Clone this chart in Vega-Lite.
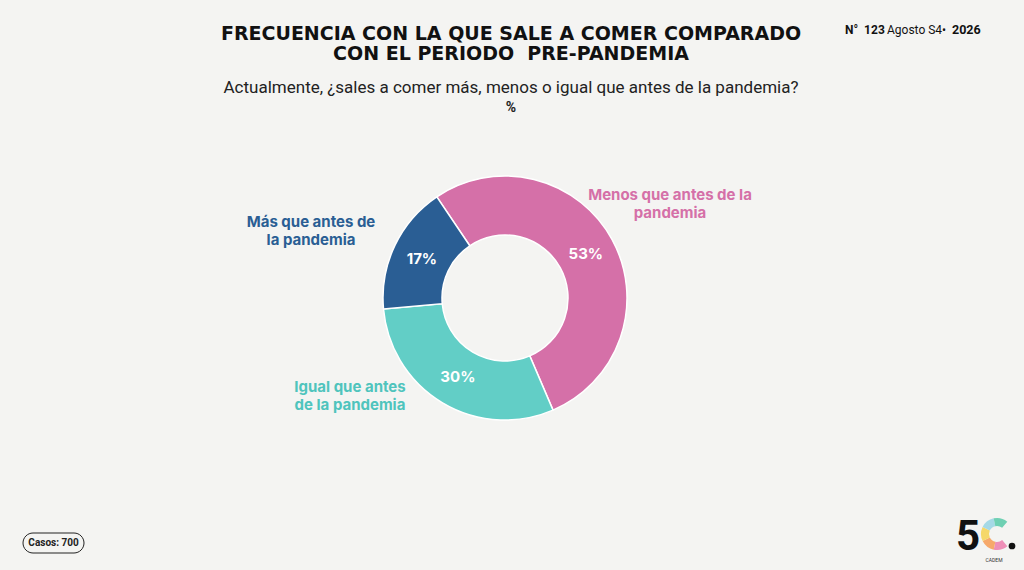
{
  "$schema": "https://vega.github.io/schema/vega-lite/v6.json",
  "width": 1024,
  "height": 570,
  "autosize": "none",
  "padding": 0,
  "background": "#f4f4f2",
  "config": {"view": {"stroke": null}},
  "datasets": {
    "respuestas": [
      {"respuesta": "Menos que antes de la pandemia", "etiqueta": "Menos que antes de la|pandemia", "pct": 0.53, "orden": 1},
      {"respuesta": "Igual que antes de la pandemia", "etiqueta": "Igual que antes|de la pandemia", "pct": 0.30, "orden": 2},
      {"respuesta": "Más que antes de la pandemia", "etiqueta": "Más que antes de|la pandemia", "pct": 0.17, "orden": 3}
    ],
    "logo": [
      {"tramo": "rosa", "peso": 1, "orden": 1},
      {"tramo": "naranja", "peso": 1, "orden": 2},
      {"tramo": "amarillo", "peso": 1, "orden": 3},
      {"tramo": "celeste", "peso": 1, "orden": 4},
      {"tramo": "verde", "peso": 1, "orden": 5}
    ]
  },
  "layer": [
    {
      "data": {"name": "respuestas"},
      "encoding": {
        "theta": {"field": "pct", "type": "quantitative", "stack": true, "scale": {"range": [-0.593, 5.690]}},
        "order": {"field": "orden", "type": "quantitative"},
        "x": {"value": 505},
        "y": {"value": 298}
      },
      "layer": [
        {
          "mark": {"type": "arc", "innerRadius": 63, "outerRadius": 122, "stroke": "white", "strokeWidth": 1.5},
          "encoding": {
            "color": {
              "field": "respuesta",
              "type": "nominal",
              "scale": {
                "domain": ["Menos que antes de la pandemia", "Igual que antes de la pandemia", "Más que antes de la pandemia"],
                "range": ["#d570a8", "#62cec6", "#2a5e94"]
              },
              "legend": null
            }
          }
        },
        {
          "mark": {"type": "text", "radius": 92, "font": "Inter", "fontWeight": "bold", "fontSize": 15, "color": "white"},
          "encoding": {"text": {"field": "pct", "type": "quantitative", "format": ".0%"}}
        }
      ]
    },
    {
      "data": {"name": "respuestas"},
      "transform": [{"filter": "datum.orden == 1"}],
      "mark": {"type": "text", "align": "center", "baseline": "middle", "lineBreak": "|", "lineHeight": 18, "font": "Inter", "fontWeight": "bold", "fontSize": 15, "color": "#d570a8"},
      "encoding": {"text": {"field": "etiqueta"}, "x": {"value": 670}, "y": {"value": 195}}
    },
    {
      "data": {"name": "respuestas"},
      "transform": [{"filter": "datum.orden == 2"}],
      "mark": {"type": "text", "align": "center", "baseline": "middle", "lineBreak": "|", "lineHeight": 18, "font": "Inter", "fontWeight": "bold", "fontSize": 15, "color": "#4fc4bd"},
      "encoding": {"text": {"field": "etiqueta"}, "x": {"value": 350}, "y": {"value": 387}}
    },
    {
      "data": {"name": "respuestas"},
      "transform": [{"filter": "datum.orden == 3"}],
      "mark": {"type": "text", "align": "center", "baseline": "middle", "lineBreak": "|", "lineHeight": 18, "font": "Inter", "fontWeight": "bold", "fontSize": 15, "color": "#2a5e94"},
      "encoding": {"text": {"field": "etiqueta"}, "x": {"value": 311}, "y": {"value": 222}}
    },
    {
      "data": {"values": [{"t": "FRECUENCIA CON LA QUE SALE A COMER COMPARADO|CON EL PERIODO\u00a0 PRE-PANDEMIA"}]},
      "mark": {"type": "text", "align": "center", "baseline": "middle", "lineBreak": "|", "lineHeight": 20, "font": "DejaVu Sans", "fontWeight": "bold", "fontSize": 19, "color": "#111111"},
      "encoding": {"text": {"field": "t"}, "x": {"value": 511}, "y": {"value": 34}}
    },
    {
      "data": {"values": [{"t": "Actualmente, ¿sales a comer más, menos o igual que antes de la pandemia?"}]},
      "mark": {"type": "text", "align": "center", "baseline": "middle", "font": "Roboto", "fontSize": 17, "color": "#222222"},
      "encoding": {"text": {"field": "t"}, "x": {"value": 511}, "y": {"value": 88}}
    },
    {
      "data": {"values": [{"t": "%"}]},
      "mark": {"type": "text", "align": "center", "baseline": "middle", "font": "Roboto", "fontWeight": "bold", "fontSize": 14, "color": "#222222"},
      "encoding": {"text": {"field": "t"}, "x": {"value": 511}, "y": {"value": 108}}
    },
    {
      "data": {"values": [{"t": "N°\u00a0 123"}]},
      "mark": {"type": "text", "align": "left", "baseline": "middle", "font": "Roboto", "fontWeight": "bold", "fontSize": 12, "color": "#111111"},
      "encoding": {"text": {"field": "t"}, "x": {"value": 845}, "y": {"value": 30}}
    },
    {
      "data": {"values": [{"t": "Agosto S4•"}]},
      "mark": {"type": "text", "align": "left", "baseline": "middle", "font": "Roboto", "fontSize": 12, "color": "#111111"},
      "encoding": {"text": {"field": "t"}, "x": {"value": 887}, "y": {"value": 30}}
    },
    {
      "data": {"values": [{"t": "2026"}]},
      "mark": {"type": "text", "align": "left", "baseline": "middle", "font": "Roboto", "fontWeight": "bold", "fontSize": 12.5, "color": "#111111"},
      "encoding": {"text": {"field": "t"}, "x": {"value": 952}, "y": {"value": 30}}
    },
    {
      "data": {"values": [{}]},
      "mark": {"type": "rect", "cornerRadius": 10, "fill": null, "fillOpacity": 0, "stroke": "#222222", "strokeWidth": 1},
      "encoding": {"x": {"value": 23}, "x2": {"value": 84}, "y": {"value": 533}, "y2": {"value": 553}}
    },
    {
      "data": {"values": [{"t": "Casos: 700"}]},
      "mark": {"type": "text", "align": "center", "baseline": "middle", "font": "Roboto", "fontWeight": "bold", "fontSize": 10, "color": "#222222"},
      "encoding": {"text": {"field": "t"}, "x": {"value": 53.5}, "y": {"value": 543}}
    },
    {
      "data": {"values": [{"t": "5"}]},
      "mark": {"type": "text", "align": "left", "baseline": "alphabetic", "font": "Roboto", "fontWeight": "bold", "fontSize": 42, "color": "#111111"},
      "encoding": {"text": {"field": "t"}, "x": {"value": 956}, "y": {"value": 550}}
    },
    {
      "data": {"name": "logo"},
      "mark": {"type": "arc", "innerRadius": 8, "outerRadius": 16},
      "encoding": {
        "theta": {"field": "peso", "type": "quantitative", "stack": true, "scale": {"range": [2.44, 6.98]}},
        "order": {"field": "orden", "type": "quantitative"},
        "color": {
          "field": "tramo",
          "type": "nominal",
          "scale": {"domain": ["rosa", "naranja", "amarillo", "celeste", "verde"], "range": ["#ee8fb8", "#f6a96b", "#f5d86a", "#a5d9e6", "#6fd0b3"]},
          "legend": null
        },
        "x": {"value": 997},
        "y": {"value": 534}
      }
    },
    {
      "data": {"values": [{}]},
      "mark": {"type": "circle", "size": 45, "color": "#111111", "opacity": 1},
      "encoding": {"x": {"value": 1012}, "y": {"value": 546}}
    },
    {
      "data": {"values": [{"t": "CADEM"}]},
      "mark": {"type": "text", "align": "center", "baseline": "middle", "font": "Roboto", "fontSize": 5, "color": "#333333"},
      "encoding": {"text": {"field": "t"}, "x": {"value": 994}, "y": {"value": 560}}
    }
  ],
  "resolve": {"scale": {"theta": "independent", "color": "independent"}}
}
